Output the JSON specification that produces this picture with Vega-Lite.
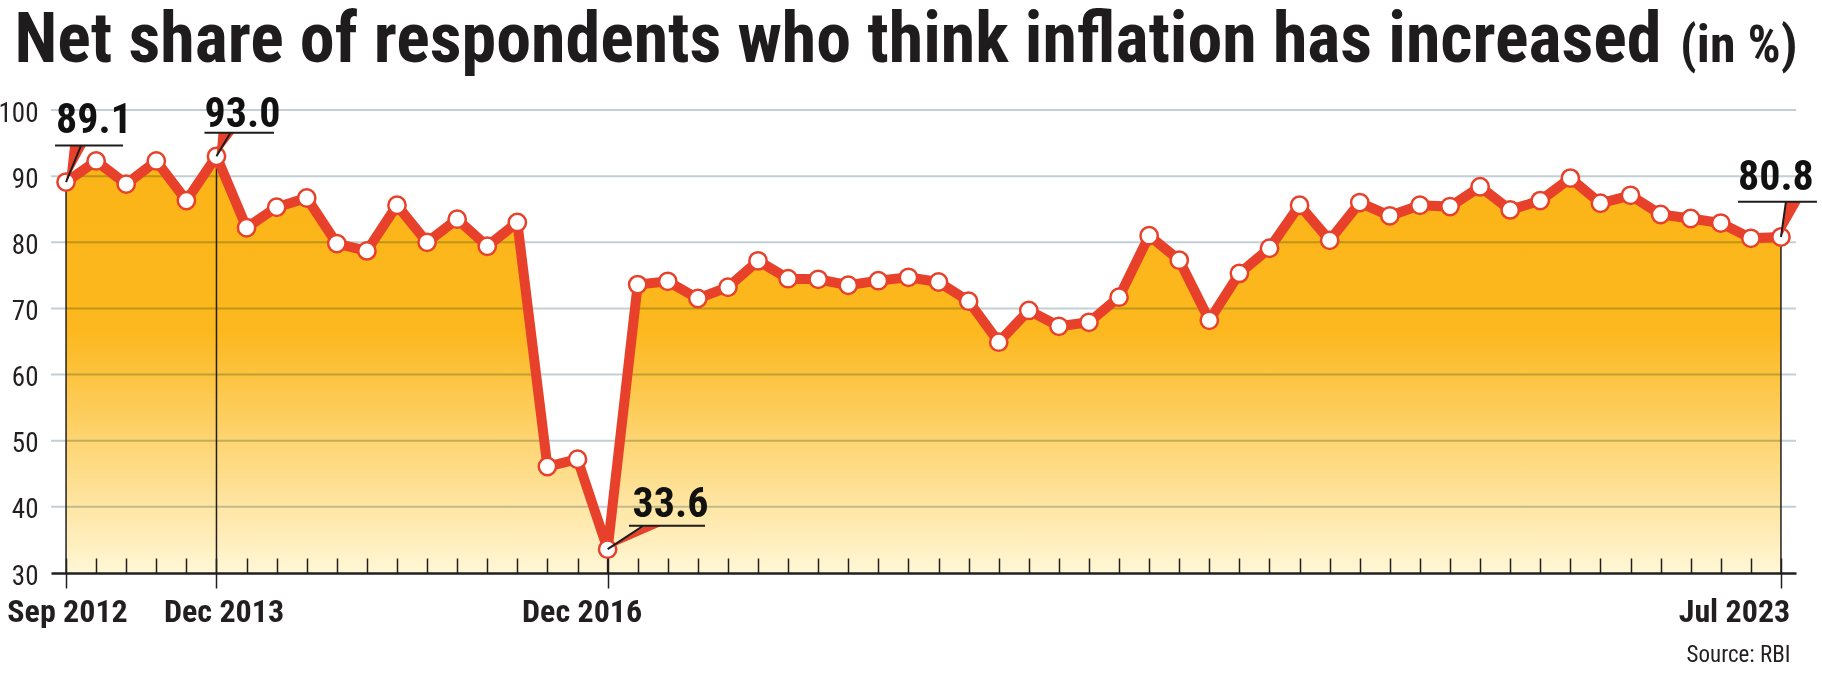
{
  "$schema": "https://vega.github.io/schema/vega-lite/v6.json",
  "autosize": {"type": "none"},
  "width": 1745,
  "height": 463,
  "padding": {"left": 51, "right": 26, "top": 110, "bottom": 100},
  "background": "white",
  "config": {"view": {"stroke": null}},
  "datasets": {
    "s": [
      {"i": 0, "v": 89.1}, {"i": 1, "v": 92.3}, {"i": 2, "v": 88.8}, {"i": 3, "v": 92.3},
      {"i": 4, "v": 86.3}, {"i": 5, "v": 93.0}, {"i": 6, "v": 82.2}, {"i": 7, "v": 85.3},
      {"i": 8, "v": 86.7}, {"i": 9, "v": 79.8}, {"i": 10, "v": 78.7}, {"i": 11, "v": 85.6},
      {"i": 12, "v": 80.0}, {"i": 13, "v": 83.5}, {"i": 14, "v": 79.4}, {"i": 15, "v": 83.0},
      {"i": 16, "v": 46.1}, {"i": 17, "v": 47.2}, {"i": 18, "v": 33.6}, {"i": 19, "v": 73.6},
      {"i": 20, "v": 74.1}, {"i": 21, "v": 71.5}, {"i": 22, "v": 73.2}, {"i": 23, "v": 77.2},
      {"i": 24, "v": 74.5}, {"i": 25, "v": 74.4}, {"i": 26, "v": 73.5}, {"i": 27, "v": 74.2},
      {"i": 28, "v": 74.7}, {"i": 29, "v": 74.0}, {"i": 30, "v": 71.1}, {"i": 31, "v": 64.9},
      {"i": 32, "v": 69.7}, {"i": 33, "v": 67.3}, {"i": 34, "v": 67.9}, {"i": 35, "v": 71.7},
      {"i": 36, "v": 81.0}, {"i": 37, "v": 77.3}, {"i": 38, "v": 68.2}, {"i": 39, "v": 75.3},
      {"i": 40, "v": 79.1}, {"i": 41, "v": 85.6}, {"i": 42, "v": 80.3}, {"i": 43, "v": 86.0},
      {"i": 44, "v": 84.0}, {"i": 45, "v": 85.6}, {"i": 46, "v": 85.4}, {"i": 47, "v": 88.4},
      {"i": 48, "v": 84.9}, {"i": 49, "v": 86.3}, {"i": 50, "v": 89.7}, {"i": 51, "v": 85.9},
      {"i": 52, "v": 87.1}, {"i": 53, "v": 84.2}, {"i": 54, "v": 83.6}, {"i": 55, "v": 82.9},
      {"i": 56, "v": 80.6}, {"i": 57, "v": 80.8}
    ],
    "g": [{"v": 40}, {"v": 50}, {"v": 60}, {"v": 70}, {"v": 80}, {"v": 90}, {"v": 100}]
  },
  "encoding": {
    "y": {
      "field": "v", "type": "quantitative",
      "scale": {"domain": [30, 100], "nice": false, "zero": false},
      "axis": {
        "values": [30, 40, 50, 60, 70, 80, 90, 100],
        "domain": false,
        "ticks": false,
        "grid": false,
        "labelFont": "Roboto Condensed, Liberation Sans Narrow, Liberation Sans",
        "labelFontSize": 27,
        "labelColor": "#231f20",
        "labelPadding": 13,
        "labelOffset": 3,
        "title": "(in %)",
        "titleAngle": 0,
        "titleX": 1746,
        "titleY": -48.7,
        "titleAlign": "right",
        "titleBaseline": "alphabetic",
        "titleFont": "Roboto Condensed, Liberation Sans Narrow, Liberation Sans",
        "titleFontSize": 52,
        "titleFontWeight": "bold",
        "titleColor": "#1e1c1c"
      }
    }
  },
  "resolve": {"axis": {"x": "independent"}, "scale": {"shape": "independent"}},
  "layer": [
    {
      "data": {"name": "s"},
      "mark": {
        "type": "area",
        "color": {
          "gradient": "linear", "x1": 0, "y1": 0, "x2": 0, "y2": 1,
          "stops": [
            {"offset": 0, "color": "#fbb417"},
            {"offset": 0.42, "color": "#fcb81e"},
            {"offset": 1, "color": "#fff7d6"}
          ]
        }
      },
      "encoding": {
        "x": {
          "field": "i", "type": "quantitative",
          "scale": {"domain": [-0.5, 57.5], "nice": false, "zero": false},
          "axis": {
            "orient": "bottom",
            "values": [0,1,2,3,4,5,6,7,8,9,10,11,12,13,14,15,16,17,18,19,20,21,22,23,24,25,26,27,28,29,30,31,32,33,34,35,36,37,38,39,40,41,42,43,44,45,46,47,48,49,50,51,52,53,54,55,56,57],
            "labels": false,
            "tickSize": -15,
            "tickWidth": 1.5,
            "tickColor": "#231f20",
            "domain": true,
            "domainColor": "#231f20",
            "domainWidth": 2.5,
            "grid": false,
            "title": "Net share of respondents who think inflation has increased",
            "titleX": -37,
            "titleY": -511.7,
            "titleAlign": "left",
            "titleAnchor": "start",
            "titleBaseline": "alphabetic",
            "titleFont": "Roboto Condensed, Liberation Sans Narrow, Liberation Sans",
            "titleFontSize": 70,
            "titleFontWeight": "bold",
            "titleColor": "#1e1c1c",
            "titleLimit": 3000,
            "zindex": 2
          }
        },
        "y2": {"datum": 30}
      }
    },
    {
      "data": {"name": "g"},
      "mark": {"type": "rule", "color": "#c3cfd6", "strokeWidth": 2, "blend": "multiply"}
    },
    {
      "data": {"name": "s"},
      "transform": [{"filter": "datum.i == 0 || datum.i == 5 || datum.i == 18 || datum.i == 57"}],
      "mark": {"type": "rule", "color": "#231f20", "strokeWidth": 1.5},
      "encoding": {
        "x": {"field": "i", "type": "quantitative", "axis": null},
        "y2": {"datum": 30}
      }
    },
    {
      "data": {"name": "s"},
      "mark": {"type": "line", "color": "#e8412b", "strokeWidth": 10},
      "encoding": {
        "x": {
          "field": "i", "type": "quantitative",
          "axis": {
            "orient": "bottom",
            "values": [0, 5, 18, 57],
            "labelExpr": "datum.value == 0 ? 'Sep 2012' : datum.value == 5 ? 'Dec 2013' : datum.value == 18 ? 'Dec 2016' : 'Jul 2023'",
            "tickSize": 15,
            "tickWidth": 1.5,
            "tickColor": "#231f20",
            "domain": false,
            "grid": false,
            "labelFont": "Roboto Condensed, Liberation Sans Narrow, Liberation Sans",
            "labelFontSize": 32,
            "labelFontWeight": "bold",
            "labelColor": "#231f20",
            "labelPadding": 33,
            "labelBaseline": "alphabetic",
            "labelAlign": "center",
            "labelFlush": false,
            "labelOverlap": false,
            "labelOffset": {
              "condition": [
                {"test": "datum.value == 5", "value": 7},
                {"test": "datum.value == 18", "value": -26},
                {"test": "datum.value == 57", "value": -47}
              ],
              "value": 1
            },
            "title": "Source: RBI",
            "titleX": 1739,
            "titleY": 88,
            "titleAlign": "right",
            "titleAnchor": null,
            "titleBaseline": "alphabetic",
            "titleFont": "Roboto Condensed, Liberation Sans Narrow, Liberation Sans",
            "titleFontSize": 23,
            "titleFontWeight": "normal",
            "titleColor": "#231f20",
            "zindex": 2
          }
        }
      }
    },
    {
      "data": {"name": "s"},
      "mark": {"type": "circle", "fill": "white", "stroke": "#e8412b", "strokeWidth": 2.5, "size": 300, "opacity": 1},
      "encoding": {
        "x": {"field": "i", "type": "quantitative", "axis": null}
      }
    },
    {
      "data": {"name": "s"},
      "transform": [{"filter": "datum.i == 0 || datum.i == 5 || datum.i == 18 || datum.i == 57"}],
      "mark": {"type": "point", "filled": true, "color": "#e8412b", "size": 4, "opacity": 1, "strokeWidth": 0},
      "encoding": {
        "x": {"field": "i", "type": "quantitative", "axis": null},
        "shape": {
          "field": "i", "type": "nominal", "legend": null,
          "scale": {
            "domain": [0, 5, 18, 57],
            "range": [
              "M4,-36.5 L20,-36.5 L0,0 Z",
              "M2,-23.5 L18,-23.5 L0,0 Z",
              "M0,0 L38,-23.5 L54,-23.5 Z",
              "M5,-35.3 L20,-35.3 L0,0 Z"
            ]
          }
        }
      }
    },
    {
      "data": {"name": "s"},
      "transform": [{"filter": "datum.i == 0 || datum.i == 5 || datum.i == 18 || datum.i == 57"}],
      "mark": {"type": "point", "filled": false, "color": "#1e1c1c", "size": 4, "opacity": 1, "strokeWidth": 2},
      "encoding": {
        "x": {"field": "i", "type": "quantitative", "axis": null},
        "shape": {
          "field": "i", "type": "nominal", "legend": null,
          "scale": {
            "domain": [0, 5, 18, 57],
            "range": [
              "M-11,-36.5 L57,-36.5 M15,-36.5 L0,0",
              "M-12,-23.5 L57.5,-23.5 M14,-23.5 L0,0",
              "M21.4,-23.5 L97.4,-23.5 M36,-23.5 L0,0",
              "M-43,-35.3 L36,-35.3 M5,-35.3 L0,0"
            ]
          }
        }
      }
    },
    {
      "data": {"name": "s"},
      "transform": [{"filter": "datum.i == 0"}],
      "mark": {"type": "text", "align": "left", "baseline": "alphabetic", "font": "Roboto Condensed, Liberation Sans Narrow, Liberation Sans", "fontSize": 42, "fontWeight": "bold", "color": "#111111", "dx": -10, "dy": -48.8},
      "encoding": {
        "x": {"field": "i", "type": "quantitative", "axis": null},
        "text": {"field": "v", "type": "quantitative", "format": ".1f"}
      }
    },
    {
      "data": {"name": "s"},
      "transform": [{"filter": "datum.i == 5"}],
      "mark": {"type": "text", "align": "left", "baseline": "alphabetic", "font": "Roboto Condensed, Liberation Sans Narrow, Liberation Sans", "fontSize": 42, "fontWeight": "bold", "color": "#111111", "dx": -12, "dy": -29.6},
      "encoding": {
        "x": {"field": "i", "type": "quantitative", "axis": null},
        "text": {"field": "v", "type": "quantitative", "format": ".1f"}
      }
    },
    {
      "data": {"name": "s"},
      "transform": [{"filter": "datum.i == 18"}],
      "mark": {"type": "text", "align": "left", "baseline": "alphabetic", "font": "Roboto Condensed, Liberation Sans Narrow, Liberation Sans", "fontSize": 42, "fontWeight": "bold", "color": "#111111", "dx": 25, "dy": -32.5},
      "encoding": {
        "x": {"field": "i", "type": "quantitative", "axis": null},
        "text": {"field": "v", "type": "quantitative", "format": ".1f"}
      }
    },
    {
      "data": {"name": "s"},
      "transform": [{"filter": "datum.i == 57"}],
      "mark": {"type": "text", "align": "left", "baseline": "alphabetic", "font": "Roboto Condensed, Liberation Sans Narrow, Liberation Sans", "fontSize": 42, "fontWeight": "bold", "color": "#111111", "dx": -43, "dy": -47},
      "encoding": {
        "x": {"field": "i", "type": "quantitative", "axis": null},
        "text": {"field": "v", "type": "quantitative", "format": ".1f"}
      }
    }
  ]
}
